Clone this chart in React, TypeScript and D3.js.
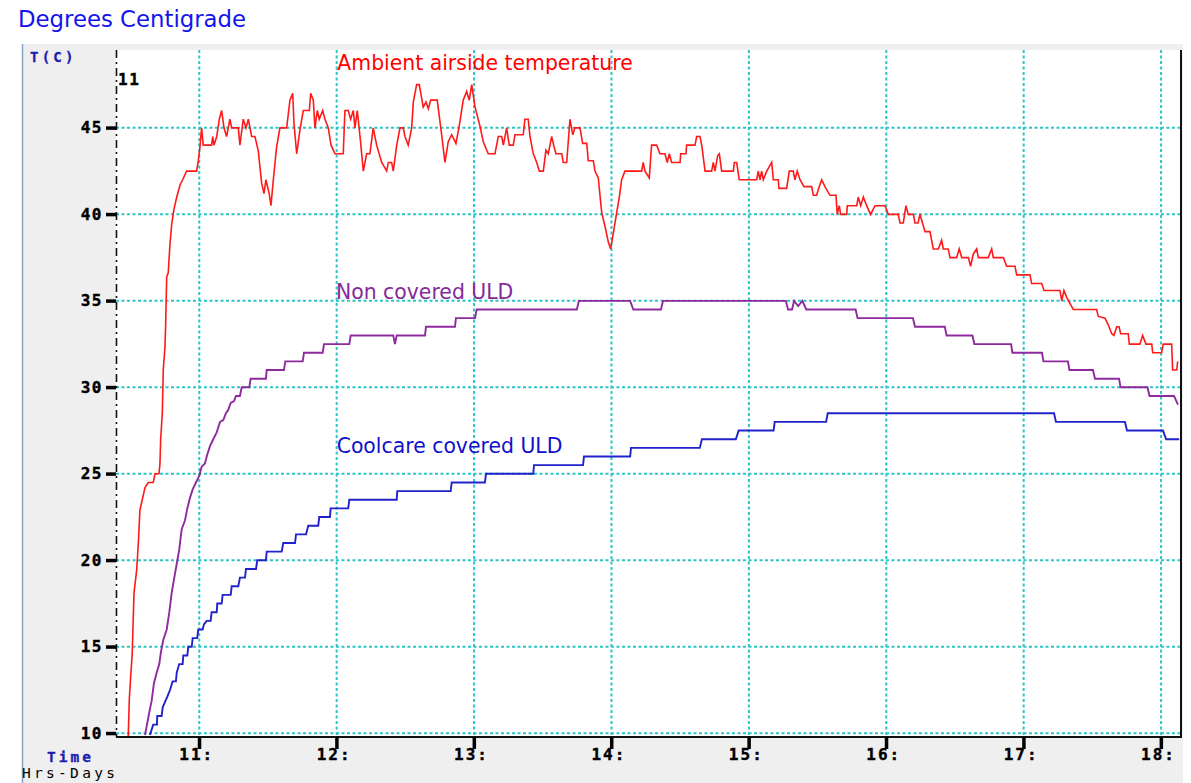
import React from "react";
import * as d3 from "d3";

// ---- Data (hours of day, °C) ----
const hourTicks = [11, 12, 13, 14, 15, 16, 17, 18];
const tempTicks = [10, 15, 20, 25, 30, 35, 40, 45];

const ambientReadings: [number, number][] = [
  [10.423, 9.8], [10.483, 9.8], [10.491, 12], [10.501, 13.3], [10.512, 14.6], [10.525, 18.1],
  [10.544, 19.4], [10.556, 20.9], [10.568, 22.9], [10.585, 23.5], [10.605, 24.2], [10.629, 24.5],
  [10.665, 24.5], [10.678, 25], [10.707, 25], [10.714, 25.6], [10.719, 27], [10.731, 28.5],
  [10.738, 31], [10.75, 32.3], [10.755, 33.5], [10.763, 36.4], [10.774, 36.6], [10.787, 38.3],
  [10.799, 39.4], [10.816, 40.3], [10.836, 41], [10.86, 41.7], [10.879, 42], [10.908, 42.5],
  [10.981, 42.5], [10.993, 43.1], [11.005, 43.9], [11.017, 45], [11.029, 44], [11.049, 44],
  [11.09, 44], [11.098, 44.5], [11.107, 44], [11.127, 44.5], [11.146, 45.5], [11.163, 46],
  [11.18, 45], [11.199, 44.5], [11.223, 45.5], [11.236, 45], [11.284, 45], [11.296, 44],
  [11.32, 45.5], [11.34, 45], [11.357, 45.5], [11.381, 44.5], [11.405, 44.5], [11.429, 43.7],
  [11.454, 41.8], [11.471, 41.2], [11.485, 42], [11.509, 41.2], [11.522, 40.5], [11.539, 42],
  [11.563, 43.9], [11.587, 45], [11.636, 45], [11.66, 46.6], [11.68, 47], [11.689, 45.3],
  [11.709, 43.5], [11.733, 44.9], [11.757, 46], [11.801, 46], [11.811, 47], [11.83, 46.6],
  [11.842, 45], [11.859, 46], [11.873, 45.5], [11.898, 46], [11.915, 45.5], [11.939, 45],
  [11.959, 44], [11.988, 43.5], [12.048, 43.5], [12.06, 46], [12.084, 46], [12.102, 45.5],
  [12.121, 46], [12.133, 45], [12.15, 46], [12.17, 44.5], [12.194, 42.5], [12.218, 43.5],
  [12.242, 43.5], [12.266, 45], [12.291, 44], [12.328, 43], [12.364, 42.5], [12.376, 43],
  [12.4, 43], [12.412, 42.5], [12.437, 44], [12.461, 45], [12.485, 45], [12.497, 44.5],
  [12.521, 44], [12.546, 45], [12.558, 46.5], [12.582, 47.5], [12.601, 47.5], [12.63, 46.2],
  [12.65, 46.5], [12.667, 46.1], [12.684, 46.6], [12.732, 46.6], [12.764, 44.6], [12.788, 43],
  [12.812, 44.2], [12.837, 44.6], [12.868, 44.1], [12.892, 45.1], [12.921, 46.6], [12.946, 47.1],
  [12.965, 46.6], [12.983, 47.5], [13.007, 46.2], [13.043, 45.1], [13.067, 44.2], [13.103, 43.5],
  [13.152, 43.5], [13.176, 44.5], [13.201, 44.5], [13.213, 44], [13.237, 45], [13.256, 44],
  [13.285, 44], [13.298, 44.6], [13.358, 44.6], [13.37, 45.5], [13.394, 45.5], [13.407, 44.5],
  [13.431, 43.5], [13.456, 43], [13.475, 42.5], [13.504, 42.5], [13.523, 43.7], [13.54, 43.5],
  [13.565, 44.5], [13.582, 43.9], [13.596, 43.5], [13.638, 43.5], [13.649, 43], [13.674, 43],
  [13.698, 45.5], [13.718, 44.6], [13.734, 45], [13.771, 45], [13.79, 44.1], [13.82, 44.1],
  [13.831, 43.1], [13.868, 43.1], [13.88, 42.5], [13.904, 42.1], [13.929, 40.1], [13.953, 39.3],
  [13.977, 38.4], [13.994, 38], [14.013, 38.9], [14.038, 40.1], [14.057, 41], [14.074, 42],
  [14.098, 42.5], [14.22, 42.5], [14.231, 43], [14.244, 42.5], [14.275, 42.1], [14.292, 44],
  [14.329, 44], [14.353, 43.5], [14.389, 43.5], [14.406, 43], [14.421, 43.5], [14.438, 43],
  [14.499, 43], [14.504, 43.5], [14.542, 43.5], [14.547, 44], [14.608, 44], [14.62, 44.5],
  [14.644, 44.5], [14.657, 44], [14.681, 42.5], [14.729, 42.5], [14.741, 43], [14.753, 42.5],
  [14.773, 43.4], [14.785, 43.5], [14.802, 42.5], [14.887, 42.5], [14.894, 43], [14.911, 43],
  [14.93, 42], [15.057, 42], [15.068, 42.5], [15.081, 42], [15.093, 42.5], [15.105, 42],
  [15.13, 42.5], [15.166, 43], [15.178, 42], [15.214, 42], [15.219, 41.5], [15.275, 41.5],
  [15.294, 42.5], [15.323, 42.5], [15.335, 42], [15.352, 42.5], [15.372, 42], [15.401, 41.6],
  [15.457, 41.6], [15.469, 41.1], [15.493, 41.1], [15.512, 41.6], [15.53, 42], [15.554, 41.6],
  [15.59, 41.1], [15.634, 41.1], [15.643, 40], [15.658, 40.5], [15.668, 40], [15.712, 40],
  [15.716, 40.5], [15.785, 40.5], [15.796, 41], [15.814, 40.5], [15.833, 41], [15.857, 40.5],
  [15.886, 40], [15.918, 40.5], [15.991, 40.5], [16.015, 40], [16.087, 40], [16.1, 39.5],
  [16.124, 39.5], [16.143, 40.5], [16.16, 40], [16.197, 40], [16.209, 39.5], [16.231, 39.5],
  [16.245, 40], [16.282, 39], [16.318, 39], [16.342, 38], [16.379, 38], [16.403, 38.5],
  [16.415, 38], [16.451, 38], [16.464, 37.5], [16.512, 37.5], [16.531, 38], [16.549, 37.5],
  [16.597, 37.5], [16.614, 37], [16.633, 37.7], [16.658, 38], [16.67, 37.5], [16.742, 37.5],
  [16.767, 38], [16.779, 37.5], [16.852, 37.5], [16.876, 37], [16.937, 37], [16.949, 36.5],
  [17.046, 36.5], [17.058, 36], [17.131, 36], [17.148, 35.6], [17.264, 35.6], [17.277, 35],
  [17.293, 35.6], [17.313, 35.2], [17.361, 34.5], [17.531, 34.5], [17.543, 34.1], [17.592, 34],
  [17.616, 33.6], [17.641, 33.1], [17.657, 33], [17.677, 33.5], [17.694, 33.5], [17.706, 33.1],
  [17.761, 33.1], [17.769, 32.5], [17.846, 32.5], [17.866, 33], [17.89, 32.5], [17.932, 32.5],
  [17.939, 32], [18.004, 32], [18.016, 32.5], [18.077, 32.5], [18.084, 31], [18.114, 31],
  [18.121, 31.5],
];

const nonCoveredReadings: [number, number][] = [
  [10.605, 9.9], [10.617, 10.4], [10.636, 11.2], [10.654, 11.9], [10.67, 12.9], [10.69, 13.5],
  [10.709, 14], [10.719, 14.6], [10.738, 15.4], [10.763, 16], [10.782, 17], [10.799, 18.1],
  [10.816, 18.9], [10.836, 19.8], [10.854, 20.6], [10.872, 21.8], [10.896, 22.3], [10.913, 23],
  [10.932, 23.6], [10.952, 24.1], [10.976, 24.5], [11.0, 24.9], [11.017, 25.4], [11.041, 25.6],
  [11.058, 26.1], [11.078, 26.6], [11.102, 27], [11.127, 27.4], [11.151, 28], [11.175, 28.1],
  [11.194, 28.5], [11.211, 28.7], [11.229, 29.1], [11.253, 29.2], [11.267, 29.5], [11.296, 29.5],
  [11.309, 30], [11.364, 30], [11.374, 30.5], [11.485, 30.5], [11.491, 31], [11.616, 31],
  [11.626, 31.5], [11.753, 31.5], [11.762, 32], [11.898, 32], [11.908, 32.5], [12.092, 32.5],
  [12.102, 33], [12.412, 33], [12.424, 32.5], [12.437, 33], [12.643, 33], [12.65, 33.5],
  [12.861, 33.5], [12.868, 34], [13.007, 34], [13.019, 34.5], [13.748, 34.5], [13.763, 35],
  [14.136, 35], [14.159, 34.5], [14.36, 34.5], [14.375, 35], [15.269, 35], [15.285, 34.5],
  [15.314, 34.5], [15.329, 35], [15.359, 34.7], [15.389, 35], [15.418, 34.5], [15.777, 34.5],
  [15.791, 34], [16.194, 34], [16.209, 33.5], [16.426, 33.5], [16.439, 33], [16.627, 33],
  [16.641, 32.5], [16.908, 32.5], [16.918, 32], [17.133, 32], [17.144, 31.5], [17.322, 31.5],
  [17.333, 31], [17.504, 31], [17.519, 30.5], [17.694, 30.5], [17.705, 30], [17.901, 30],
  [17.916, 29.5], [18.094, 29.5], [18.123, 29],
];

const coolcareReadings: [number, number][] = [
  [10.641, 9.9], [10.665, 10.5], [10.692, 10.5], [10.694, 11], [10.726, 11], [10.734, 11.5],
  [10.75, 11.8], [10.767, 12.1], [10.787, 12.5], [10.806, 13], [10.83, 13], [10.836, 13.5],
  [10.854, 14], [10.879, 14], [10.884, 14.5], [10.913, 14.5], [10.92, 15], [10.945, 15],
  [10.952, 15.5], [10.985, 15.5], [10.993, 16], [11.025, 16], [11.034, 16.3], [11.054, 16.5],
  [11.083, 16.5], [11.09, 17], [11.127, 17], [11.131, 17.5], [11.163, 17.5], [11.17, 18],
  [11.229, 18], [11.236, 18.5], [11.284, 18.5], [11.296, 19], [11.333, 19], [11.34, 19.5],
  [11.413, 19.5], [11.422, 20], [11.485, 20], [11.491, 20.5], [11.6, 20.5], [11.611, 21],
  [11.697, 21], [11.704, 21.5], [11.777, 21.5], [11.793, 22], [11.866, 22], [11.873, 22.5],
  [11.951, 22.5], [11.956, 23], [12.084, 23], [12.092, 23.5], [12.437, 23.5], [12.441, 24],
  [12.83, 24], [12.837, 24.5], [13.079, 24.5], [13.087, 25], [13.431, 25], [13.436, 25.5],
  [13.793, 25.5], [13.8, 26], [14.136, 26], [14.142, 26.5], [14.643, 26.5], [14.658, 27],
  [14.905, 27], [14.926, 27.5], [15.18, 27.5], [15.188, 28], [15.562, 28], [15.574, 28.5],
  [17.221, 28.5], [17.235, 28], [17.737, 28], [17.752, 27.5], [18.014, 27.5], [18.037, 27],
  [18.132, 27],
];

const seriesLabels = ["Ambient airside temperature", "Non covered ULD", "Coolcare covered ULD"];
const seriesColors = ["#ff1a1a", "#8e2a9e", "#2222cc"];
const labelColors = ["#ff0000", "#84299a", "#1010cc"];
// label anchor (hour, °C)
const labelHours = [12.005, 11.995, 12.0];
const labelTemps = [48.35, 35.1, 26.2];

// ---- Layout ----
const W = 1191;
const H = 783;
const plot = { left: 116, right: 1181, top: 50, bottom: 737 };
const hourDomain: [number, number] = [10.394, 18.145];
const tempDomain: [number, number] = [9.786, 49.5];

const mono = "'DejaVu Sans Mono', monospace";
const sans = "'DejaVu Sans', Verdana, sans-serif";

export default function App() {
  const x = d3.scaleLinear().domain(hourDomain).range([plot.left, plot.right]);
  const y = d3.scaleLinear().domain(tempDomain).range([plot.bottom, plot.top]);
  const line = d3
    .line<[number, number]>()
    .x((d) => x(d[0]))
    .y((d) => y(d[1]));

  const series = [ambientReadings, nonCoveredReadings, coolcareReadings];
  const grid = "#2cc6c6";

  return (
    <div style={{ position: "absolute", left: 0, top: 0, width: W, height: H, overflow: "hidden", background: "#fff" }}>
      <svg width={W} height={H} style={{ display: "block" }}>
        <rect x={0} y={0} width={W} height={H} fill="#ffffff" />
        <text x={18} y={27} fontFamily={sans} fontSize={22.8} fill="#1414ee">
          Degrees Centigrade
        </text>
        {/* grey panel */}
        <rect x={22} y={44} width={1161} height={H - 44} fill="#efefef" />
        <line x1={22.5} x2={22.5} y1={44} y2={H} stroke="#8aa4c4" strokeWidth={1.5} />
        {/* plot area */}
        <rect
          x={plot.left}
          y={plot.top}
          width={plot.right - plot.left}
          height={plot.bottom - plot.top}
          fill="#ffffff"
        />
        {/* grid */}
        {tempTicks.map((t) => (
          <line
            key={"gy" + t}
            x1={plot.left}
            x2={plot.right}
            y1={y(t)}
            y2={y(t)}
            stroke={grid}
            strokeWidth={2}
            strokeDasharray="3,2.5"
          />
        ))}
        {hourTicks.map((h) => (
          <line
            key={"gx" + h}
            x1={x(h)}
            x2={x(h)}
            y1={plot.top}
            y2={plot.bottom}
            stroke={grid}
            strokeWidth={2}
            strokeDasharray="3,2.5"
          />
        ))}
        {/* series */}
        {series.map((s, i) => (
          <path
            key={"s" + i}
            d={line(s) || ""}
            fill="none"
            stroke={seriesColors[i]}
            strokeWidth={i === 0 ? 1.6 : 1.9}
            strokeLinejoin="miter"
          />
        ))}
        {/* annotations */}
        {seriesLabels.map((lab, i) => (
          <text
            key={"l" + i}
            x={x(labelHours[i])}
            y={y(labelTemps[i])}
            fontFamily={sans}
            fontSize={20.4}
            fill={labelColors[i]}
          >
            {lab}
          </text>
        ))}
        {/* axes */}
        <line
          x1={plot.left + 0.5}
          x2={plot.left + 0.5}
          y1={plot.top}
          y2={plot.bottom}
          stroke="#111"
          strokeWidth={1.6}
          strokeDasharray="8,4,2,4"
        />
        <line x1={plot.left} x2={plot.right + 1} y1={plot.bottom} y2={plot.bottom} stroke="#111" strokeWidth={2} />
        <line x1={plot.right} x2={plot.right} y1={plot.top} y2={plot.bottom} stroke="#111" strokeWidth={2} />
        {tempTicks.map((t) => (
          <g key={"ty" + t}>
            <rect x={106} y={y(t) - 1.5} width={10} height={3.5} fill="#000" />
            <text
              x={103}
              y={y(t) + 5.5}
              textAnchor="end"
              fontFamily={mono}
              fontWeight="bold"
              fontSize={16}
              letterSpacing={1.5}
              fill="#000"
              stroke="#000"
              strokeWidth={0.4}
            >
              {t}
            </text>
          </g>
        ))}
        {hourTicks.map((h) => (
          <g key={"tx" + h}>
            <rect x={x(h) - 1.5} y={plot.bottom} width={3.5} height={12} fill="#000" />
            <text
              x={x(h) - 20}
              y={760}
              fontFamily={mono}
              fontWeight="bold"
              fontSize={16}
              letterSpacing={2}
              fill="#000"
              stroke="#000"
              strokeWidth={0.4}
            >
              {h + ":"}
            </text>
          </g>
        ))}
        <text
          x={118}
          y={85}
          fontFamily={mono}
          fontWeight="bold"
          fontSize={16}
          letterSpacing={1.5}
          fill="#000"
          stroke="#000"
          strokeWidth={0.4}
        >
          11
        </text>
        <text
          x={30}
          y={62}
          fontFamily={mono}
          fontWeight="bold"
          fontSize={14}
          letterSpacing={3.2}
          fill="#1c1cb0"
          stroke="#1c1cb0"
          strokeWidth={0.3}
        >
          T(C)
        </text>
        <text
          x={47}
          y={762}
          fontFamily={mono}
          fontWeight="bold"
          fontSize={14.5}
          letterSpacing={3}
          fill="#1c1cb0"
          stroke="#1c1cb0"
          strokeWidth={0.3}
        >
          Time
        </text>
        <text x={22} y={777.5} fontFamily={mono} fontSize={14.5} letterSpacing={3.3} fill="#000">
          Hrs-Days
        </text>
      </svg>
    </div>
  );
}
